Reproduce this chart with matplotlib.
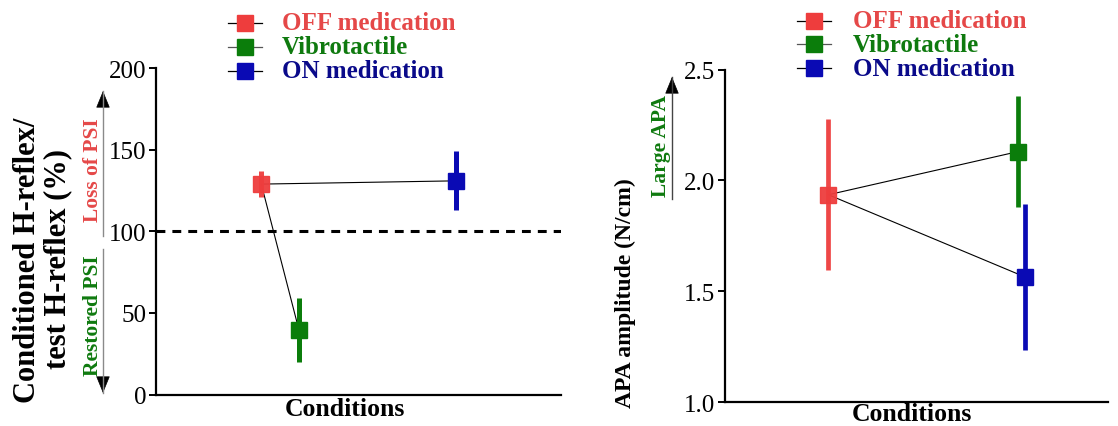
import matplotlib
matplotlib.use("Agg")
import matplotlib.pyplot as plt
from matplotlib.lines import Line2D
from matplotlib.patches import FancyArrowPatch

plt.rcParams['font.family'] = ['Liberation Serif', 'DejaVu Serif']

# ---- data ----
conditions = ["OFF medication", "Vibrotactile", "ON medication"]
colors = ["#ee3d3d", "#0b7d0b", "#0a0ab4"]
text_colors = ["#e54848", "#0f7a0f", "#0a0a8a"]

# left panel: conditioned / test H-reflex (%)
h_x = [0.26, 0.353, 0.741]
h_mean = [129, 39.5, 131]
h_err = [8, 19.5, 18]

# right panel: APA amplitude (N/cm)
apa_x = [0.27, 0.766, 0.782]
apa_mean = [1.935, 2.13, 1.565]
apa_err = [0.34, 0.25, 0.33]

left_ticks = [0, 50, 100, 150, 200]
right_ticks = [1.0, 1.5, 2.0, 2.5]

W, H = 1118, 427
fig = plt.figure(figsize=(W / 100, H / 100), dpi=100)

def fx(px):
    return px / W

def fy(py):
    return 1 - py / H

axL = fig.add_axes([fx(156), fy(395.5), (561 - 156) / W, (395.5 - 69.3) / H])
axR = fig.add_axes([fx(725), fy(403), (1108 - 725) / W, (403 - 70.5) / H])

def style(ax, ylim, ticks, fmt):
    ax.set_xlim(0, 1)
    ax.set_ylim(*ylim)
    for s in ["top", "right"]:
        ax.spines[s].set_visible(False)
    for s in ["left", "bottom"]:
        ax.spines[s].set_linewidth(1.6)
    ax.set_xticks([])
    ax.set_yticks(ticks)
    ax.set_yticklabels([fmt(t) for t in ticks])
    ax.tick_params(axis="y", labelsize=18, width=1.4, length=5, pad=2)

style(axL, (0, 200), left_ticks, lambda t: f"{t:d}")
style(axR, (1.0, 2.5), right_ticks, lambda t: f"{t:.1f}")

fig.text(fx(345), fy(410), "Conditions", ha="center", va="center",
         fontsize=18.5, fontweight="bold")
fig.text(fx(912), fy(415), "Conditions", ha="center", va="center",
         fontsize=18.5, fontweight="bold")

# reference line at 100 %
axL.axhline(100, color="black", lw=2.2, dashes=(2.9, 2.3), zorder=1)

# connecting lines from OFF to each other condition
for ax, xs, ms in [(axL, h_x, h_mean), (axR, apa_x, apa_mean)]:
    for j in (1, 2):
        ax.plot([xs[0], xs[j]], [ms[0], ms[j]], color="black", lw=0.8, zorder=2)

# error bars + markers
for ax, xs, ms, es, elw in [(axL, h_x, h_mean, h_err, 3.6), (axR, apa_x, apa_mean, apa_err, 3.4)]:
    for i in range(3):
        ax.errorbar(xs[i], ms[i], yerr=es[i], fmt="s", color=colors[i],
                    ms=11.5, mec=colors[i], elinewidth=elw, capsize=0,
                    zorder=3, alpha=0.95 if i == 0 else 1)

# y labels
fig.text(fx(28), fy(260), "Conditioned H-reflex/", rotation=90, ha="center",
         va="center", fontsize=22, fontweight="bold")
fig.text(fx(58), fy(259), "test H-reflex (%)", rotation=90, ha="center",
         va="center", fontsize=22, fontweight="bold")
fig.text(fx(625), fy(293), "APA amplitude (N/cm)", rotation=90, ha="center",
         va="center", fontsize=17, fontweight="bold")

def vline_arrow(x, y_from, y_to, line_color):
    fig.add_artist(Line2D([fx(x), fx(x)], [fy(y_from), fy(y_to)],
                          transform=fig.transFigure, color=line_color, lw=1.0))
    d = 1 if y_to > y_from else -1
    fig.add_artist(FancyArrowPatch(
        (fx(x), fy(y_to - d * 16)), (fx(x), fy(y_to)), transform=fig.transFigure,
        arrowstyle="-|>,head_length=11,head_width=4.5", color="black", lw=0.5,
        mutation_scale=1.0, shrinkA=0, shrinkB=0))

# annotation arrows (left panel)
vline_arrow(103, 237, 92, "#8a8a8a")
vline_arrow(103, 250, 394, "#8a8a8a")
fig.text(fx(93), fy(170), "Loss of PSI", rotation=90, ha="center", va="center",
         color=text_colors[0], fontsize=15.5, fontweight="bold")
fig.text(fx(93), fy(316), "Restored PSI", rotation=90, ha="center", va="center",
         color=text_colors[1], fontsize=15.5, fontweight="bold")

# annotation arrow (right panel)
vline_arrow(672, 200, 78, "#444444")
fig.text(fx(661), fy(146), "Large APA", rotation=90, ha="center", va="center",
         color=text_colors[1], fontsize=15.5, fontweight="bold")

# legends
def make_legend(x_marker, x_text, ys):
    for i, name in enumerate(conditions):
        y = ys[i]
        fig.add_artist(Line2D([fx(x_marker - 17), fx(x_marker + 17)], [fy(y), fy(y)],
                              transform=fig.transFigure,
                              color="black" if i != 1 else "#555555", lw=0.9))
        fig.add_artist(Line2D([fx(x_marker)], [fy(y)], transform=fig.transFigure,
                              marker="s", ms=11, color=colors[i], mec=colors[i]))
        fig.text(fx(x_text), fy(y), name, ha="left", va="center",
                 color=text_colors[i], fontsize=18, fontweight="bold")

make_legend(245, 282, [24, 48, 72])
make_legend(814, 853, [22, 45, 69])

fig.savefig("out.png", dpi=100)
